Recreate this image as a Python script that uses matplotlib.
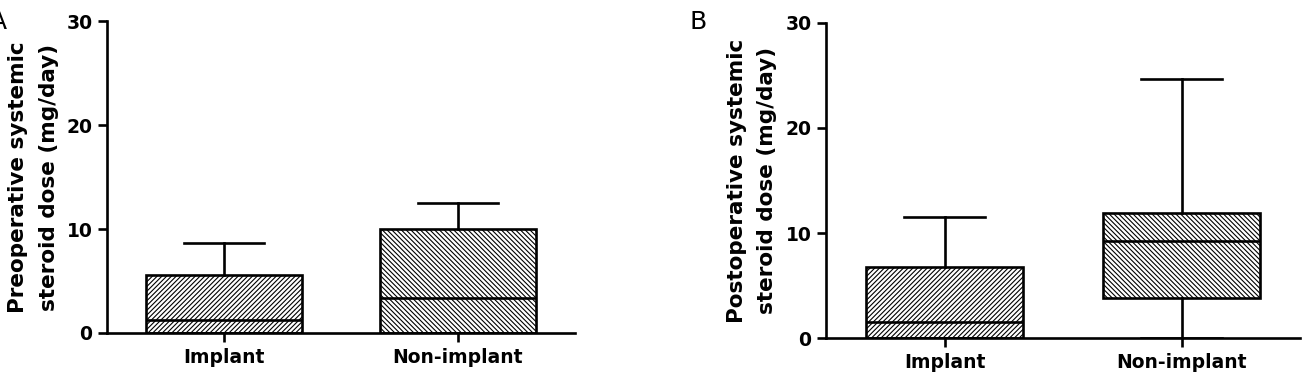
"""Box plots of pre- and postoperative systemic steroid dose."""

import matplotlib
matplotlib.use('Agg')
import matplotlib.pyplot as plt

groups = ['Implant', 'Non-implant']

# panel A: preoperative dose (mg/day)
pre_whislo = [0.0, 0.0]
pre_q1 = [0.0, 0.0]
pre_med = [1.25, 3.37]
pre_q3 = [5.58, 10.0]
pre_whishi = [8.65, 12.5]

# panel B: postoperative dose (mg/day)
post_whislo = [0.0, 0.0]
post_q1 = [0.0, 3.8]
post_med = [1.52, 9.24]
post_q3 = [6.76, 11.9]
post_whishi = [11.5, 24.7]

y_ticks = [0, 10, 20, 30]
hatches = ['/' * 7, '\\' * 7]

plt.rcParams['font.family'] = ['DejaVu Sans']
plt.rcParams['hatch.linewidth'] = 0.8
plt.rcParams['hatch.color'] = '#333333'

LW = 1.9


def _draw(ax, whislo, q1, med, q3, whishi, ylabel, label_x):
    stats = [dict(label=g, whislo=a, q1=b, med=c, q3=d, whishi=e)
             for g, a, b, c, d, e in zip(groups, whislo, q1, med, q3, whishi)]
    bp = ax.bxp(stats, positions=[1, 2], widths=0.665, capwidths=0.345,
                showfliers=False, patch_artist=True,
                boxprops=dict(facecolor='white', edgecolor='black', linewidth=LW),
                medianprops=dict(color='black', linewidth=LW),
                whiskerprops=dict(color='black', linewidth=LW),
                capprops=dict(color='black', linewidth=LW))
    for box, h in zip(bp['boxes'], hatches):
        box.set_hatch(h)

    ax.set_xlim(0.5, 2.5)
    ax.set_ylim(0, 30)
    ax.set_yticks(y_ticks)
    ax.set_xticks([1, 2], groups)
    for side in ('top', 'right'):
        ax.spines[side].set_visible(False)
    for side in ('left', 'bottom'):
        ax.spines[side].set_linewidth(LW)
    ax.tick_params(direction='out', length=6.5, width=LW, labelsize=13.5, pad=4)
    for lab in ax.get_xticklabels() + ax.get_yticklabels():
        lab.set_fontweight('bold')
    ax.set_ylabel(ylabel, fontsize=15.5, fontweight='bold', linespacing=1.65)
    ax.yaxis.set_label_coords(label_x, 0.5)


fig = plt.figure(figsize=(13.08, 3.8), dpi=100)
axA = fig.add_axes([0.0818, 0.1237, 0.3578, 0.821])
axB = fig.add_axes([0.6315, 0.1105, 0.3624, 0.829])

_draw(axA, pre_whislo, pre_q1, pre_med, pre_q3, pre_whishi,
      'Preoperative systemic\nsteroid dose (mg/day)', -0.103)
_draw(axB, post_whislo, post_q1, post_med, post_q3, post_whishi,
      'Postoperative systemic\nsteroid dose (mg/day)', -0.103)

fig.text(-10 / 1308, 1 - 10 / 380, 'A', fontsize=18, ha='left', va='top')
fig.text(690 / 1308, 1 - 10 / 380, 'B', fontsize=18, ha='left', va='top')

fig.savefig('out.png', dpi=100)
